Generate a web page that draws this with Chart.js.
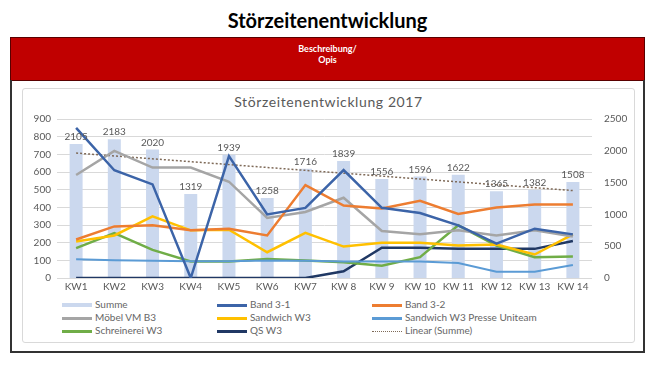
<!DOCTYPE html>
<html>
<head>
<meta charset="utf-8">
<script src="https://cdn.jsdelivr.net/npm/chart.js@4"></script>
<style>
    body { margin: 0; background: #fff; font-family: Lato, "Liberation Sans", sans-serif; }
    #page { position: relative; width: 655px; height: 386px; }
    #mainTitle { position: absolute; left: 0; top: 8px; width: 655px; text-align: center; font-weight: bold; font-size: 20px; color: #000; }
    #redBar { position: absolute; left: 10px; top: 37px; width: 635px; height: 44px; background: #C00000; border: 1px solid #5a0000; box-sizing: border-box; color: #fff; text-align: center; font-size: 9px; font-weight: bold; line-height: 11px; padding-top: 5px; }
    #frame { position: absolute; left: 10px; top: 80px; width: 635px; height: 273px; border: 2px solid #333; border-top: none; box-sizing: border-box; }
    #chartBox { position: absolute; left: 22px; top: 88px; width: 613px; height: 255px; border: 1px solid #d9d9d9; border-radius: 3px; box-sizing: border-box; }
    #chartTitle { position: absolute; left: 22px; top: 93px; width: 613px; text-align: center; font-size: 14px; color: #595959; letter-spacing: 0.6px; }
    #chartWrap { position: absolute; left: 22px; top: 88px; width: 613px; height: 208px; }
    .leg { position: absolute; font-size: 10px; color: #666; line-height: 12px; white-space: nowrap; }
    .leg .sw { display: inline-block; width: 30px; vertical-align: middle; margin-right: 3px; }
</style>
</head>
<body>
<div id="page">
    <div id="mainTitle">Störzeitenentwicklung</div>
    <div id="redBar">Beschreibung/<br>Opis</div>
    <div id="frame"></div>
    <div id="chartBox"></div>
    <div id="chartTitle">Störzeitenentwicklung 2017</div>
    <div id="chartWrap"><canvas id="stoerChart"></canvas></div>
    <div id="legend"></div>
</div>
<script>
// Categories and series
const weeks = ['KW1', 'KW2', 'KW3', 'KW4', 'KW5', 'KW6', 'KW7', 'KW 8', 'KW 9', 'KW 10', 'KW 11', 'KW 12', 'KW 13', 'KW 14'];
const summe = [2105, 2183, 2020, 1319, 1939, 1258, 1716, 1839, 1556, 1596, 1622, 1365, 1382, 1508];
const band31 = [850, 610, 530, 0, 690, 360, 397, 611, 397, 368, 298, 194, 279, 247];
const band32 = [218, 292, 298, 270, 279, 241, 526, 410, 393, 437, 363, 399, 416, 416];
const moebel = [583, 719, 625, 625, 545, 340, 374, 454, 266, 247, 270, 241, 270, 235];
const sandwich = [207, 241, 349, 270, 273, 146, 256, 178, 199, 199, 184, 190, 133, 247];
const sandwichPresse = [106, 101, 98, 95, 95, 99, 98, 93, 93, 93, 85, 36, 36, 74];
const schreinerei = [169, 254, 159, 93, 93, 108, 99, 89, 70, 118, 298, 184, 118, 121];
const qs = [0, 0, 0, 0, 0, 0, 0, 38, 171, 171, 165, 165, 165, 209];
// Linear trend of Summe: only the two ends
const trendSumme = [1965, null, null, null, null, null, null, null, null, null, null, null, null, 1375];
const leftTicksMax = 900;
const rightTicksMax = 2500;

const grey = '#595959';
const tickFont = { size: 10, family: 'Lato' };

// draws the numbers above the Summe bars
const barLabels = {
    id: 'barLabels',
    afterDatasetsDraw(chart) {
        const ctx = chart.ctx;
        const meta = chart.getDatasetMeta(0);
        ctx.save();
        ctx.font = '10px Lato';
        ctx.fillStyle = grey;
        ctx.textAlign = 'center';
        ctx.textBaseline = 'bottom';
        meta.data.forEach((bar, i) => {
            ctx.fillText(summe[i], bar.x, bar.y - 2);
        });
        ctx.restore();
    }
};

function line(label, data, color, extra) {
    return Object.assign({
        type: 'line',
        label: label,
        data: data,
        borderColor: color,
        backgroundColor: color,
        borderWidth: 2.5,
        pointRadius: 0,
        tension: 0,
        yAxisID: 'y'
    }, extra || {});
}

const datasets = [
    {
        type: 'bar',
        label: 'Summe',
        data: summe,
        backgroundColor: '#CBD8EE',
        yAxisID: 'y1',
        barPercentage: 0.34,
        categoryPercentage: 1,
        order: 10
    },
    line('Band 3-1', band31, '#3C64A8'),
    line('Band 3-2', band32, '#ED7D31'),
    line('Möbel VM B3', moebel, '#A5A5A5'),
    line('Sandwich W3', sandwich, '#FFC000'),
    line('Sandwich W3 Presse Uniteam', sandwichPresse, '#5B9BD5', { borderWidth: 2 }),
    line('Schreinerei W3', schreinerei, '#70AD47'),
    line('QS W3', qs, '#203864'),
    line('Linear (Summe)', trendSumme, '#7F6A58', { borderWidth: 1.5, borderDash: [2, 2], spanGaps: true, yAxisID: 'y1' })
];

const stoerChart = new Chart(document.getElementById('stoerChart'), {
    data: { labels: weeks, datasets: datasets },
    plugins: [barLabels],
    options: {
        responsive: true,
        maintainAspectRatio: false,
        animation: false,
        layout: { padding: { top: 31, left: 0, right: 0, bottom: 0 } },
        plugins: {
            legend: { display: false },
            title: { display: false },
            tooltip: { enabled: false }
        },
        scales: {
            x: {
                grid: { display: false, drawTicks: false },
                border: { display: false },
                ticks: { color: grey, font: tickFont, maxRotation: 0, autoSkip: false, padding: 3 },
                afterFit(scale) { scale.height = 17; }
            },
            y: {
                position: 'left',
                min: 0,
                max: leftTicksMax,
                grid: { color: '#D9D9D9', drawTicks: false },
                border: { display: false },
                ticks: { stepSize: 100, color: grey, font: tickFont, padding: 6 },
                afterFit(scale) { scale.width = 35; }
            },
            y1: {
                position: 'right',
                min: 0,
                max: rightTicksMax,
                grid: { display: false, drawTicks: false },
                border: { display: false },
                ticks: { stepSize: 500, color: grey, font: tickFont, padding: 12, callback: (v) => String(v) },
                afterFit(scale) { scale.width = 43; }
            }
        }
    }
});

// legend in three columns like the Excel one
const legendItems = [
    { label: 'Summe', color: '#CBD8EE', h: 4 },
    { label: 'Band 3-1', color: '#3C64A8', h: 2.5 },
    { label: 'Band 3-2', color: '#ED7D31', h: 2.5 },
    { label: 'Möbel VM B3', color: '#A5A5A5', h: 2.5 },
    { label: 'Sandwich W3', color: '#FFC000', h: 2.5 },
    { label: 'Sandwich W3 Presse Uniteam', color: '#5B9BD5', h: 2.5 },
    { label: 'Schreinerei W3', color: '#70AD47', h: 2.5 },
    { label: 'QS W3', color: '#203864', h: 2.5 },
    { label: 'Linear (Summe)', color: '#7F6A58', h: 0, dotted: true }
];
const colX = [62, 217, 372];
const rowY = [298, 311, 324];
const legendDiv = document.getElementById('legend');
legendItems.forEach((item, i) => {
    const el = document.createElement('div');
    el.className = 'leg';
    el.style.left = colX[i % 3] + 'px';
    el.style.top = rowY[Math.floor(i / 3)] + 'px';
    const sw = document.createElement('span');
    sw.className = 'sw';
    if (item.dotted) {
        sw.style.borderTop = '1.5px dotted ' + item.color;
    } else {
        sw.style.height = item.h + 'px';
        sw.style.background = item.color;
    }
    el.appendChild(sw);
    el.appendChild(document.createTextNode(item.label));
    legendDiv.appendChild(el);
});
</script>
</body>
</html>
